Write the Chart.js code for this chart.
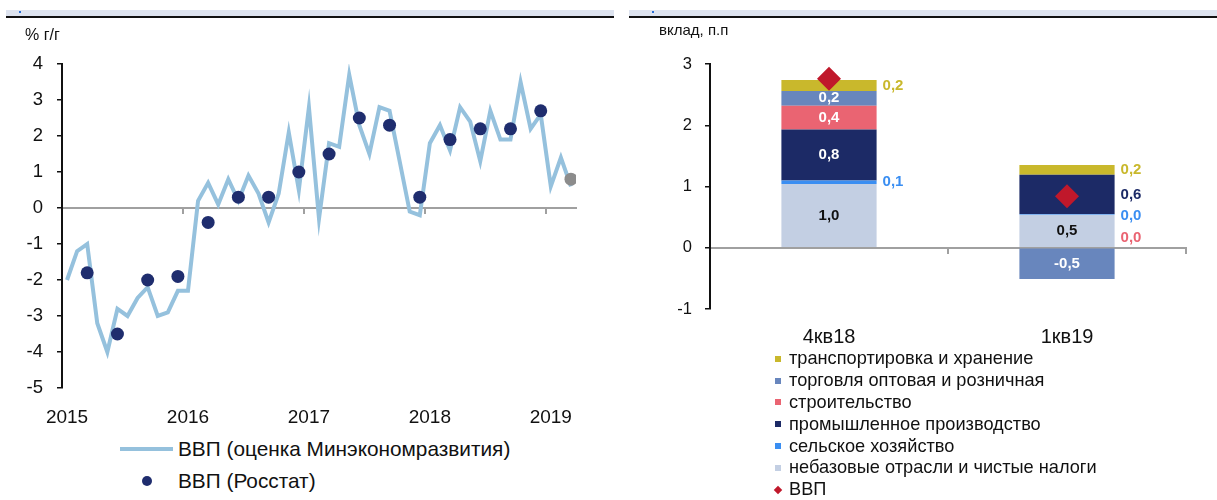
<!DOCTYPE html>
<html lang="ru">
<head>
<meta charset="utf-8">
<title>ВВП</title>
<script src="https://cdn.jsdelivr.net/npm/chart.js@4.4.1/dist/chart.umd.min.js"></script>
<style>
  body { margin: 0; background: #fff; font-family: "Liberation Sans", Arial, sans-serif; color: #111; }
  #page { position: relative; width: 1217px; height: 500px; overflow: hidden; }
  .band { position: absolute; top: 10px; height: 6px; background: #dde3ef; border-bottom: 2px solid #111; }
  .mark { position: absolute; top: 11px; width: 2px; height: 2px; background: #2a6fd6; }
  canvas { position: absolute; top: 0; }
  .axis-title { position: absolute; line-height: 1; white-space: nowrap; }
  .legend { position: absolute; }
  .legend .row { display: flex; align-items: center; white-space: nowrap; }
</style>
</head>
<body>
<div id="page">
  <div class="band" style="left:6px; width:608px"></div>
  <div class="band" style="left:629px; width:588px"></div>
  <div class="mark" style="left:19px"></div>
  <div class="mark" style="left:652px"></div>

  <canvas id="gdpChart" width="600" height="433" style="left:0"></canvas>
  <canvas id="sectorChart" width="597" height="354" style="left:620px"></canvas>

  <div class="axis-title" style="left:25px; top:27px; font-size:16px">% г/г</div>
  <div class="axis-title" style="left:659px; top:22px; font-size:15px">вклад, п.п</div>

  <div class="legend" id="gdpLegend" style="left:120px; top:433px; font-size:20.8px"></div>
  <div class="legend" id="sectorLegend" style="left:774px; top:348px; font-size:18.2px"></div>
</div>

<script>
// левый график: ВВП, % г/г, помесячно с янв-2015 по мар-2019
const years = ['2015', '2016', '2017', '2018', '2019'];
const gdpMonthly = [
    -2.0, -1.2, -1.0, -3.2, -4.0, -2.8, -3.0, -2.5, -2.2, -3.0, -2.9, -2.3,
    -2.3, 0.2, 0.7, 0.1, 0.8, 0.2, 0.9, 0.4, -0.4, 0.4, 2.1, 0.5,
    2.8, -0.3, 1.8, 1.7, 3.7, 2.3, 1.5, 2.8, 2.7, 1.3, -0.1, -0.2,
    1.8, 2.3, 1.6, 2.8, 2.4, 1.3, 2.7, 1.9, 1.9, 3.5, 2.2, 2.6,
    0.6, 1.4, 0.6
];
// квартальные оценки Росстата (номер месяца от янв-2015), последняя точка — предварительная
const rosstatMonths = [2, 5, 8, 11, 14, 17, 20, 23, 26, 29, 32, 35, 38, 41, 44, 47, 50];
const gdpRosstat = [-1.8, -3.5, -2.0, -1.9, -0.4, 0.3, 0.3, 1.0, 1.5, 2.5, 2.3, 0.3, 1.9, 2.2, 2.2, 2.7, 0.8];
const gdpSeriesNames = ['ВВП (оценка Минэкономразвития)', 'ВВП (Росстат)'];

// правый график: вклад отраслей в рост ВВП, п.п.
const quarters = ['4кв18', '1кв19'];
const sectorNames = [
    'небазовые отрасли и чистые налоги',
    'сельское хозяйство',
    'промышленное производство',
    'строительство',
    'торговля оптовая и розничная',
    'транспортировка и хранение'
];
const nonBase = [1.04, 0.54];
const agriculture = [0.06, 0.01];
const industry = [0.83, 0.64];
const construction = [0.39, 0.0];
const trade = [0.24, -0.51];
const transport = [0.18, 0.16];
const gdpQuarter = [2.76, 0.84];

const sectorValues = [nonBase, agriculture, industry, construction, trade, transport];
const sectorColors = ['#c3cfe3', '#3a8ef2', '#1c2a66', '#ea6472', '#6886bd', '#c9b82c'];
const insideTextColors = ['#111', '#fff', '#fff', '#fff', '#fff', '#fff'];
// подписи справа от столбца (индексы рядов, сверху вниз)
const outsideLabels = [[5, 1], [5, 2, 1, 3]];

const lineColor = '#95c1dd';
const dotColor = '#1f2d6e';
const gdpRed = '#c0182b';
const axisGray = '#a0a0a0';

Chart.defaults.font.family = '"Liberation Sans", Arial, sans-serif';
Chart.defaults.color = '#111';
Chart.defaults.animation = false;
Chart.defaults.plugins.legend.display = false;
Chart.defaults.plugins.tooltip.enabled = false;

function fmt(v) {
    return v.toFixed(1).replace('.', ',');
}

function drawGdpChart() {
    const ctx = document.getElementById('gdpChart').getContext('2d');
    const lastIdx = gdpRosstat.length - 1;
    new Chart(ctx, {
        type: 'line',
        data: {
            datasets: [{
                label: gdpSeriesNames[0],
                data: gdpMonthly.map((v, i) => ({ x: i, y: v })),
                borderColor: lineColor,
                borderWidth: 4,
                pointRadius: 0,
                tension: 0
            }, {
                label: gdpSeriesNames[1],
                data: rosstatMonths.map((m, i) => ({ x: m, y: gdpRosstat[i] })),
                showLine: false,
                pointRadius: 6.5,
                pointBorderWidth: 0,
                pointBackgroundColor: gdpRosstat.map((v, i) => i === lastIdx ? '#8c8c8c' : dotColor),
                order: -1
            }]
        },
        options: {
            responsive: false,
            layout: { padding: { left: 0, right: 24, top: 64, bottom: 0 } },
            scales: {
                x: {
                    type: 'linear',
                    position: { y: 0 },
                    min: -0.5,
                    max: gdpMonthly.length - 0.5,
                    afterBuildTicks: s => { s.ticks = years.map((y, k) => ({ value: k * 12 - 0.5 })); },
                    ticks: { display: false },
                    grid: { drawOnChartArea: false, drawTicks: true, tickLength: 5, color: axisGray, lineWidth: 2 },
                    border: { color: axisGray, width: 2 }
                },
                xLabels: {
                    type: 'linear',
                    position: 'bottom',
                    min: -0.5,
                    max: gdpMonthly.length - 0.5,
                    afterBuildTicks: s => { s.ticks = years.map((y, k) => ({ value: k * 12 })); },
                    ticks: {
                        callback: (v, i) => years[i],
                        font: { size: 19 },
                        padding: 10,
                        maxRotation: 0,
                        autoSkip: false
                    },
                    grid: { display: false },
                    border: { display: false },
                    afterFit: s => { s.height = 45; }
                },
                y: {
                    min: -5,
                    max: 4,
                    ticks: { stepSize: 1, font: { size: 18.5 }, padding: 14, callback: v => String(v) },
                    grid: { drawOnChartArea: false, drawTicks: true, tickLength: 5, color: '#111', lineWidth: 1.5 },
                    border: { color: '#111', width: 2 },
                    afterFit: s => { s.width = 62; }
                }
            }
        }
    });
}

const segmentLabels = {
    id: 'segmentLabels',
    afterDatasetsDraw(chart) {
        const ctx = chart.ctx;
        ctx.save();
        ctx.font = 'bold 15px "Liberation Sans", Arial, sans-serif';
        ctx.textBaseline = 'middle';
        quarters.forEach((q, qi) => {
            const outside = outsideLabels[qi];
            sectorValues.forEach((vals, si) => {
                if (outside.includes(si)) return;
                const bar = chart.getDatasetMeta(si).data[qi];
                ctx.fillStyle = insideTextColors[si];
                ctx.textAlign = 'center';
                ctx.fillText(fmt(vals[qi]), bar.x, (bar.y + bar.base) / 2);
            });
            // боковые подписи не должны налезать друг на друга
            let prevY = -Infinity;
            outside.forEach(si => {
                const bar = chart.getDatasetMeta(si).data[qi];
                const y = Math.max((bar.y + bar.base) / 2, prevY + 21.5);
                prevY = y;
                ctx.fillStyle = sectorColors[si];
                ctx.textAlign = 'left';
                ctx.fillText(fmt(sectorValues[si][qi]), bar.x + bar.width / 2 + 6, y);
            });
        });
        ctx.restore();
    }
};

function drawSectorChart() {
    const ctx = document.getElementById('sectorChart').getContext('2d');
    const datasets = sectorValues.map((vals, i) => ({
        type: 'bar',
        label: sectorNames[i],
        data: vals,
        backgroundColor: sectorColors[i],
        borderWidth: 0,
        barPercentage: 0.4,
        categoryPercentage: 1
    }));
    datasets.push({
        type: 'line',
        label: 'ВВП',
        data: gdpQuarter,
        showLine: false,
        pointStyle: 'rectRot',
        pointRadius: 12,
        pointBorderWidth: 0,
        pointBackgroundColor: gdpRed,
        stack: 'gdp',
        order: -1
    });

    new Chart(ctx, {
        data: { labels: quarters, datasets: datasets },
        options: {
            responsive: false,
            layout: { padding: { left: 0, right: 31, top: 64, bottom: 0 } },
            scales: {
                x: {
                    type: 'category',
                    position: { y: 0 },
                    stacked: true,
                    offset: true,
                    z: 1,
                    ticks: { display: false },
                    grid: { offset: true, drawOnChartArea: false, drawTicks: true, tickLength: 5, color: axisGray, lineWidth: 2 },
                    border: { color: axisGray, width: 2 }
                },
                xLabels: {
                    type: 'category',
                    labels: quarters,
                    position: 'bottom',
                    offset: true,
                    ticks: { font: { size: 20 }, padding: 8, maxRotation: 0 },
                    grid: { display: false },
                    border: { display: false },
                    afterFit: s => { s.height = 45; }
                },
                y: {
                    stacked: true,
                    min: -1,
                    max: 3,
                    ticks: { stepSize: 1, font: { size: 16.5 }, padding: 13, callback: v => String(v) },
                    grid: { drawOnChartArea: false, drawTicks: true, tickLength: 5, color: '#111', lineWidth: 1.5 },
                    border: { color: '#111', width: 2 },
                    afterFit: s => { s.width = 90; }
                }
            }
        },
        plugins: [segmentLabels]
    });
}

function buildLegends() {
    const gdpLegend = document.getElementById('gdpLegend');
    gdpSeriesNames.forEach((name, i) => {
        const row = document.createElement('div');
        row.className = 'row';
        row.style.height = '32px';
        const sw = document.createElement('span');
        sw.style.cssText = 'display:inline-flex;justify-content:center;align-items:center;width:53px;margin-right:5px;';
        const mark = document.createElement('span');
        mark.style.cssText = i === 0
            ? `display:block;width:53px;height:4px;background:${lineColor};`
            : `display:block;width:10px;height:10px;border-radius:50%;background:${dotColor};`;
        sw.appendChild(mark);
        row.appendChild(sw);
        row.appendChild(document.createTextNode(name));
        gdpLegend.appendChild(row);
    });

    const sectorLegend = document.getElementById('sectorLegend');
    const items = sectorNames.map((n, i) => ({ name: n, color: sectorColors[i], diamond: false })).reverse();
    items.push({ name: 'ВВП', color: gdpRed, diamond: true });
    items.forEach(it => {
        const row = document.createElement('div');
        row.className = 'row';
        row.style.height = '21.8px';
        const sw = document.createElement('span');
        sw.style.cssText = 'display:inline-flex;align-items:center;justify-content:center;width:8px;margin-right:7px;';
        const mark = document.createElement('span');
        mark.style.cssText = it.diamond
            ? `display:block;width:6px;height:6px;background:${it.color};transform:rotate(45deg);`
            : `display:block;width:6px;height:6px;background:${it.color};`;
        sw.appendChild(mark);
        row.appendChild(sw);
        row.appendChild(document.createTextNode(it.name));
        sectorLegend.appendChild(row);
    });
}

window.addEventListener('DOMContentLoaded', () => {
    drawGdpChart();
    drawSectorChart();
    buildLegends();
});
</script>
</body>
</html>
